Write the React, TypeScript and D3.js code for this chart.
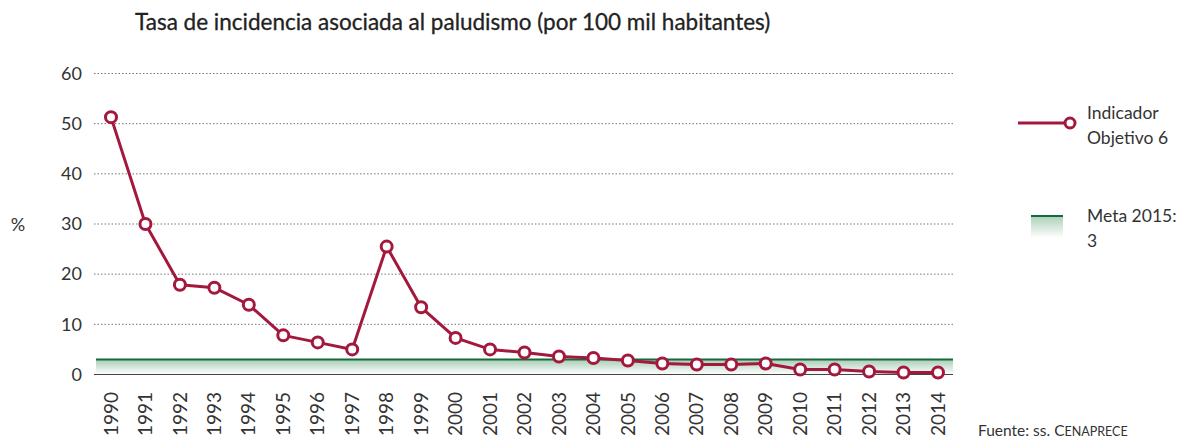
import { useEffect, useRef } from 'react';
import * as d3 from 'd3';

const years = [
  1990, 1991, 1992, 1993, 1994, 1995, 1996, 1997, 1998, 1999, 2000, 2001, 2002,
  2003, 2004, 2005, 2006, 2007, 2008, 2009, 2010, 2011, 2012, 2013, 2014,
];
const incidencia = [
  51.3, 30.0, 17.9, 17.3, 13.9, 7.8, 6.4, 5.0, 25.5, 13.4, 7.3, 5.0, 4.4,
  3.6, 3.3, 2.8, 2.2, 2.0, 2.0, 2.2, 1.0, 1.0, 0.6, 0.4, 0.4,
];
const yTicks = [0, 10, 20, 30, 40, 50, 60];
const meta = 3;

const title = 'Tasa de incidencia asociada al paludismo (por 100 mil habitantes)';
const legendLine = ['Indicador', 'Objetivo 6'];
const legendMeta = ['Meta 2015:', '3'];

const RED = '#a3193d';
const GREEN = '#16693a';
const FONT = 'Lato, "Open Sans", sans-serif';

export default function App() {
  const ref = useRef<SVGSVGElement>(null);

  useEffect(() => {
    const svg = d3.select(ref.current);
    svg.selectAll('*').remove();

    const x = d3.scalePoint<number>().domain(years).range([111, 938]);
    const y = d3.scaleLinear().domain([0, 60]).range([374.5, 73.5]);
    const x0 = 94;
    const x1 = 953;

    const defs = svg.append('defs');
    const grad = defs.append('linearGradient')
      .attr('id', 'metaGrad')
      .attr('x1', 0).attr('y1', 0).attr('x2', 0).attr('y2', 1);
    grad.append('stop').attr('offset', '0%').attr('stop-color', '#a9cdb6');
    grad.append('stop').attr('offset', '100%').attr('stop-color', '#ffffff');

    // title
    svg.append('text')
      .attr('x', 135).attr('y', 30)
      .style('font-family', FONT)
      .style('font-size', '22.5px')
      .style('fill', '#222')
      .style('stroke', '#222')
      .style('stroke-width', 0.3)
      .text(title);

    // gridlines
    svg.append('g').selectAll('line')
      .data(yTicks.filter(d => d > 0))
      .enter().append('line')
      .attr('x1', x0).attr('x2', x1)
      .attr('y1', d => y(d)).attr('y2', d => y(d))
      .attr('stroke', '#777')
      .attr('stroke-width', 1)
      .attr('stroke-dasharray', '1.5,2');

    // y tick labels
    svg.append('g').selectAll('text')
      .data(yTicks)
      .enter().append('text')
      .attr('x', 82).attr('y', d => y(d))
      .attr('dy', '0.35em')
      .attr('text-anchor', 'end')
      .style('font-family', FONT)
      .style('font-size', '18px')
      .style('fill', '#333')
      .text(d => d);

    svg.append('text')
      .attr('x', 18).attr('y', 225)
      .attr('dy', '0.35em')
      .attr('text-anchor', 'middle')
      .style('font-family', FONT)
      .style('font-size', '18px')
      .style('fill', '#333')
      .text('%');

    // meta band
    svg.append('rect')
      .attr('x', 96).attr('y', y(meta))
      .attr('width', x1 - 96).attr('height', y(0) - y(meta))
      .attr('fill', 'url(#metaGrad)');
    svg.append('line')
      .attr('x1', 96).attr('x2', x1)
      .attr('y1', y(meta)).attr('y2', y(meta))
      .attr('stroke', GREEN).attr('stroke-width', 2);

    // baseline
    svg.append('line')
      .attr('x1', x0).attr('x2', x1)
      .attr('y1', y(0)).attr('y2', y(0))
      .attr('stroke', '#444').attr('stroke-width', 1.2);

    // x labels
    svg.append('g').selectAll('text')
      .data(years)
      .enter().append('text')
      .attr('transform', d => `translate(${x(d)},392) rotate(-90)`)
      .attr('dy', '0.35em')
      .attr('text-anchor', 'end')
      .style('font-family', FONT)
      .style('font-size', '19px')
      .style('fill', '#333')
      .text(d => d);

    // line
    const line = d3.line<number>()
      .x((_, i) => x(years[i]) as number)
      .y(d => y(d));
    svg.append('path')
      .datum(incidencia)
      .attr('d', line)
      .attr('fill', 'none')
      .attr('stroke', RED)
      .attr('stroke-width', 3)
      .attr('stroke-linejoin', 'round');

    svg.append('g').selectAll('circle')
      .data(incidencia)
      .enter().append('circle')
      .attr('cx', (_, i) => x(years[i]) as number)
      .attr('cy', d => y(d))
      .attr('r', 5.5)
      .attr('fill', '#fff')
      .attr('stroke', RED)
      .attr('stroke-width', 3);

    // legend
    const lg = svg.append('g');
    lg.append('line')
      .attr('x1', 1018).attr('x2', 1068)
      .attr('y1', 123).attr('y2', 123)
      .attr('stroke', RED).attr('stroke-width', 3);
    lg.append('circle')
      .attr('cx', 1070).attr('cy', 123).attr('r', 5)
      .attr('fill', '#fff').attr('stroke', RED).attr('stroke-width', 3);
    lg.append('text')
      .attr('x', 1087).attr('y', 119)
      .style('font-family', FONT).style('font-size', '17.5px').style('fill', '#333')
      .selectAll('tspan')
      .data(legendLine)
      .enter().append('tspan')
      .attr('x', 1087)
      .attr('dy', (_, i) => (i === 0 ? 0 : 25))
      .text(d => d);

    lg.append('rect')
      .attr('x', 1031).attr('y', 215)
      .attr('width', 32).attr('height', 23)
      .attr('fill', 'url(#metaGrad)');
    lg.append('line')
      .attr('x1', 1031).attr('x2', 1063)
      .attr('y1', 216).attr('y2', 216)
      .attr('stroke', GREEN).attr('stroke-width', 2);
    lg.append('text')
      .attr('x', 1087).attr('y', 222)
      .style('font-family', FONT).style('font-size', '17.5px').style('fill', '#333')
      .selectAll('tspan')
      .data(legendMeta)
      .enter().append('tspan')
      .attr('x', 1087)
      .attr('dy', (_, i) => (i === 0 ? 0 : 25))
      .text(d => d);

    // source
    const src = svg.append('text')
      .attr('x', 978).attr('y', 436)
      .style('font-family', FONT).style('font-size', '15.5px').style('fill', '#333');
    src.append('tspan').text('Fuente: ss. C');
    src.append('tspan').style('font-size', '12.5px').text('ENAPRECE');
  }, []);

  return (
    <svg
      ref={ref}
      width={1199}
      height={441}
      style={{ position: 'absolute', left: 0, top: 0, background: '#fff' }}
    />
  );
}
